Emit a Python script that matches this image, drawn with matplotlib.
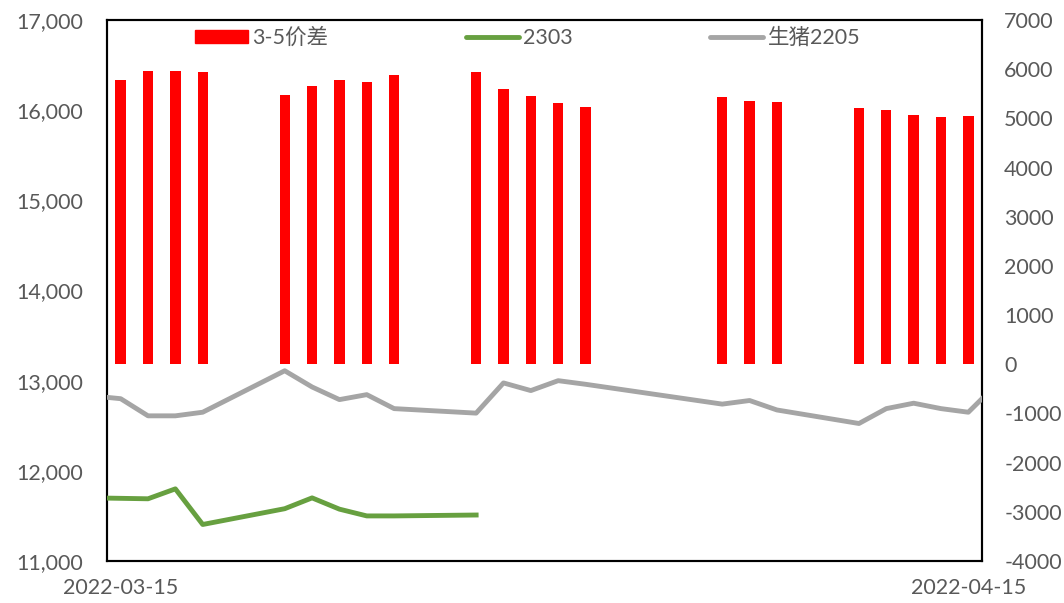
import pandas as pd
import matplotlib.pyplot as plt
import matplotlib.dates as mdates
from matplotlib.patches import Patch
from matplotlib.lines import Line2D
from matplotlib.ticker import FuncFormatter, MultipleLocator

plt.rcParams['font.family'] = ['Lato', 'Noto Sans CJK SC', 'DejaVu Sans']

# 3-5价差 (right axis)
spread_dates = ["2022-03-15", "2022-03-16", "2022-03-17", "2022-03-18",
                "2022-03-21", "2022-03-22", "2022-03-23", "2022-03-24", "2022-03-25",
                "2022-03-28", "2022-03-29", "2022-03-30", "2022-03-31", "2022-04-01",
                "2022-04-06", "2022-04-07", "2022-04-08",
                "2022-04-11", "2022-04-12", "2022-04-13", "2022-04-14", "2022-04-15"]
spread_values = [5780, 5960, 5955, 5935,
                 5465, 5650, 5780, 5735, 5885,
                 5940, 5595, 5450, 5305, 5230,
                 5425, 5345, 5330,
                 5215, 5175, 5065, 5025, 5045]

# 2303 contract (left axis)
c2303_dates = ["2022-03-14", "2022-03-15", "2022-03-16", "2022-03-17", "2022-03-18",
               "2022-03-21", "2022-03-22", "2022-03-23", "2022-03-24", "2022-03-25",
               "2022-03-28"]
c2303_values = [11700, 11695, 11690, 11800, 11405,
                11580, 11700, 11575, 11500, 11500,
                11510]

# 生猪2205 (left axis)
lh2205_dates = ["2022-03-14", "2022-03-15", "2022-03-16", "2022-03-17", "2022-03-18",
                "2022-03-21", "2022-03-22", "2022-03-23", "2022-03-24", "2022-03-25",
                "2022-03-28", "2022-03-29", "2022-03-30", "2022-03-31", "2022-04-01",
                "2022-04-06", "2022-04-07", "2022-04-08",
                "2022-04-11", "2022-04-12", "2022-04-13", "2022-04-14", "2022-04-15",
                "2022-04-18"]
lh2205_values = [12830, 12800, 12610, 12610, 12650,
                 13110, 12930, 12790, 12845, 12690,
                 12640, 12975, 12890, 13000, 12960,
                 12740, 12780, 12675,
                 12525, 12690, 12750, 12690, 12650,
                 13550]

tick_dates = ["2022-03-15", "2022-04-15"]

TXT = "#595959"
RED = "#FF0000"
GREEN = "#67A040"
GREY = "#A5A5A5"

fig = plt.figure(figsize=(10.64, 6.03), dpi=100)
ax = fig.add_axes([107 / 1064, 1 - 561 / 603, 875 / 1064, 541 / 603])
ax2 = ax.twinx()

ax2.bar(pd.to_datetime(spread_dates), spread_values, width=0.38, color=RED, zorder=2)
ax.plot(pd.to_datetime(c2303_dates), c2303_values, color=GREEN, lw=3.5, zorder=3)
ax.plot(pd.to_datetime(lh2205_dates), lh2205_values, color=GREY, lw=3.5, zorder=3)

# lines sit above the bars
ax.set_zorder(ax2.get_zorder() + 1)
ax.patch.set_visible(False)

ax.set_xlim(pd.Timestamp("2022-03-14 12:00"), pd.Timestamp("2022-04-15 12:00"))
ax.set_ylim(11000, 17000)
ax2.set_ylim(-4000, 7000)
ax.yaxis.set_major_locator(MultipleLocator(1000))
ax2.yaxis.set_major_locator(MultipleLocator(1000))
ax.yaxis.set_major_formatter(FuncFormatter(lambda v, p: f"{v:,.0f}"))
ax2.yaxis.set_major_formatter(FuncFormatter(lambda v, p: f"{v:.0f}"))

ax.set_xticks(pd.to_datetime(tick_dates))
ax.xaxis.set_major_formatter(mdates.DateFormatter("%Y-%m-%d"))

ax.tick_params(axis='y', length=0, pad=17, labelsize=15.5, labelcolor=TXT)
ax2.tick_params(axis='y', length=0, pad=16, labelsize=15.5, labelcolor=TXT)
ax.tick_params(axis='x', length=0, pad=12, labelsize=15.5, labelcolor=TXT)

for a in (ax, ax2):
    for s in a.spines.values():
        s.set_linewidth(1.5)
        s.set_color("black")

handles = [Patch(facecolor=RED, edgecolor=RED),
           Line2D([], [], color=GREEN, lw=3.5, solid_capstyle='round'),
           Line2D([], [], color=GREY, lw=3.5, solid_capstyle='round')]
labels = ["3-5价差", "2303", "生猪2205"]
ax.legend(handles, labels, loc='center', bbox_to_anchor=(0.4806, 0.9667),
          ncol=3, frameon=False, fontsize=15.5, labelcolor=TXT,
          handlelength=2.45, handleheight=0.6, handletextpad=0.2,
          columnspacing=6.4, borderpad=0, borderaxespad=0)

fig.savefig("out.png", dpi=100)
